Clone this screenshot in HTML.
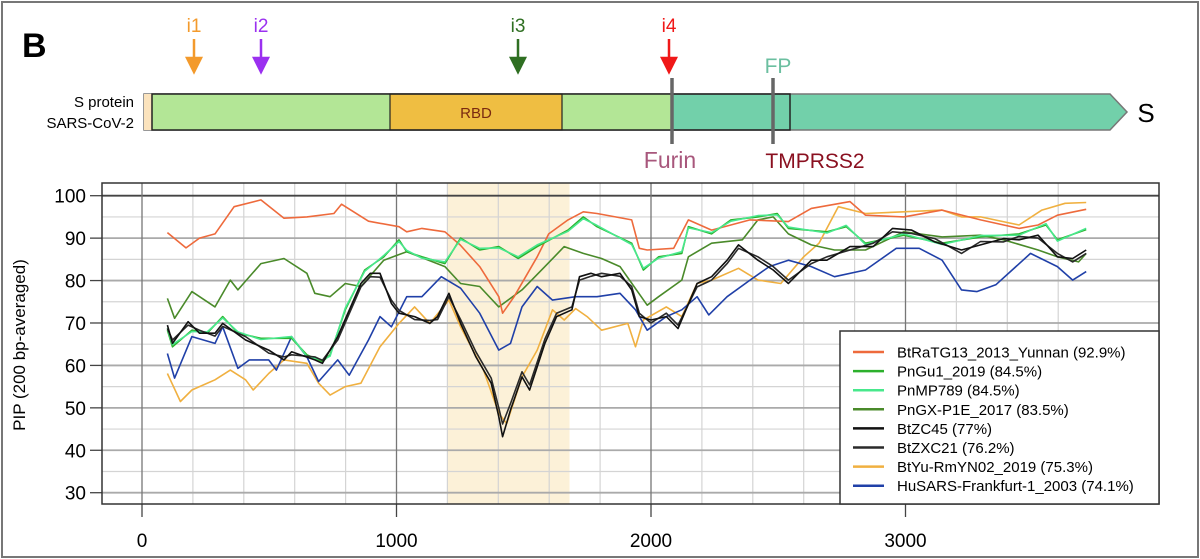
<!DOCTYPE html>
<html><head><meta charset="utf-8"><style>
body{margin:0;background:#fff;}
svg{display:block;font-family:"Liberation Sans",sans-serif;}
</style></head><body>
<svg id="fig" width="1200" height="559" viewBox="0 0 1200 559">
<rect x="2" y="2" width="1196" height="555" fill="#fff" stroke="#777" stroke-width="2"/>
<text x="22" y="57" font-size="34" font-weight="bold">B</text>
<g>
<text x="194" y="32" font-size="19" fill="#f39a2c" text-anchor="middle">i1</text>
<path d="M194 39 V64 M187 58 L194 72 L201 58 Z" stroke="#f39a2c" stroke-width="2.5" fill="#f39a2c"/>
<text x="261" y="32" font-size="19" fill="#9b30f0" text-anchor="middle">i2</text>
<path d="M261 39 V64 M254 58 L261 72 L268 58 Z" stroke="#9b30f0" stroke-width="2.5" fill="#9b30f0"/>
<text x="518" y="32" font-size="19" fill="#2f6f22" text-anchor="middle">i3</text>
<path d="M518 39 V64 M511 58 L518 72 L525 58 Z" stroke="#2f6f22" stroke-width="2.5" fill="#2f6f22"/>
<text x="669" y="32" font-size="19" fill="#f01818" text-anchor="middle">i4</text>
<path d="M669 39 V64 M662 58 L669 72 L676 58 Z" stroke="#f01818" stroke-width="2.5" fill="#f01818"/>
</g>
<g>
<text x="134" y="107" font-size="15" text-anchor="end">S protein</text>
<text x="134" y="128" font-size="15" text-anchor="end">SARS-CoV-2</text>
<path d="M144 94 H1110 L1127 112 L1110 130 H144 Z" fill="#72d0aa" stroke="#777" stroke-width="1.5"/>
<rect x="144" y="94" width="8" height="36" fill="#fbe3bd"/>
<rect x="152" y="94" width="520" height="36" fill="#b3e696"/>
<rect x="390" y="94" width="172" height="36" fill="#efbe42" stroke="#222" stroke-width="1.2"/>
<text x="476" y="118" font-size="15" fill="#7a2a10" text-anchor="middle">RBD</text>
<rect x="152" y="94" width="638" height="36" fill="none" stroke="#222" stroke-width="1.5"/>
<line x1="672" y1="78" x2="672" y2="144" stroke="#666" stroke-width="3.5"/>
<line x1="773" y1="78" x2="773" y2="144" stroke="#666" stroke-width="3.5"/>
<text x="778" y="73" font-size="21" fill="#6bbfa0" text-anchor="middle">FP</text>
<text x="670" y="168" font-size="23" fill="#a8577c" text-anchor="middle">Furin</text>
<text x="815" y="168" font-size="21" fill="#8a1020" text-anchor="middle">TMPRSS2</text>
<text x="1146" y="122" font-size="26" text-anchor="middle">S</text>
</g>
<g id="chart"></g>
</svg>
<script>
const ticksX=[0,1000,2000,3000];
const ticksY=[30,40,50,60,70,80,90,100];
const names=["BtRaTG13_2013_Yunnan (92.9%)","PnGu1_2019 (84.5%)","PnMP789 (84.5%)","PnGX-P1E_2017 (83.5%)","BtZC45 (77%)","BtZXC21 (76.2%)","BtYu-RmYN02_2019 (75.3%)","HuSARS-Frankfurt-1_2003 (74.1%)"];
const colors=["#ee6a3c","#2cb02c","#48e88c","#4a8a2a","#111111","#2a2a2a","#f0b040","#2040a8"];
const redX=[100,173,226,287,362,467,558,648,754,784,890,1010,1040,1100,1190,1250,1327,1402,1417,1462,1553,1598,1674,1734,1788,1924,1954,1985,2089,2147,2238,2389,2540,2630,2782,2843,2993,3144,3295,3446,3521,3597,3710];
const redY=[91.3,87.7,90,91,97.4,99,94.7,95,95.8,98,94,92.7,91.5,92.3,91.5,88.4,83.3,76.2,72.3,76.2,85.6,91,94.3,96.2,95.8,94.3,87.6,87.2,87.6,94.3,91.9,94.3,93.9,97,98.6,95.4,95,96.6,94.3,92.3,93.1,95.4,96.8];
const guX=[100,120,196,256,317,377,467,588,648,709,739,799,875,950,1010,1040,1100,1190,1252,1327,1402,1478,1553,1674,1734,1788,1924,1970,2030,2121,2147,2238,2314,2420,2496,2540,2691,2767,2843,2993,3144,3295,3446,3552,3597,3710];
const guY=[68.3,64.4,68.3,67.6,71.5,67.6,66.4,66.4,62.5,60.9,62.5,73.1,82.5,85.6,89.6,86.8,85.6,84,90,87.2,88,85.2,88,91.9,95,92.7,88.8,82.5,85.6,86.4,92.7,91,94.3,95,95.8,92.3,91.5,92.7,88.8,90.7,88.8,90.3,91,93.1,89.6,92];
const mpY=[68.8,64.9,68,67.9,71.2,67.9,66.1,66.8,62.1,61.3,62.2,73.5,82.2,85.9,89.2,87.1,85.3,84.4,89.7,87.6,87.7,85.6,88.4,91.6,94.6,93,88.5,82.9,85.3,86.8,92.4,91.3,94,95.3,95.5,92.6,91.2,93,88.5,91,88.5,90.6,90.7,93.4,89.3,92.3];
const gxX=[100,128,196,287,347,377,467,558,648,679,739,799,860,950,1040,1190,1252,1327,1402,1493,1583,1659,1734,1806,1878,1985,2030,2121,2147,2238,2359,2420,2480,2540,2630,2721,2843,2993,3144,3295,3385,3521,3597,3680,3710];
const gxY=[75.8,71.1,77.4,73.8,80.1,77.8,84,85.2,81.7,77,76.2,79.3,78.6,84.8,86.8,83.3,79.3,78.6,73.8,77.8,83.3,88,86.4,85.2,83.3,74.2,76.2,80.1,85.6,88.8,89.6,94.3,95,91,88.4,87.2,87.2,91.5,90.3,90.7,89.6,87.2,85.6,84.4,86.4];
const zcX=[100,120,181,226,287,317,407,498,558,588,679,709,769,860,897,935,980,1010,1071,1131,1161,1206,1252,1312,1372,1402,1417,1448,1493,1523,1583,1629,1689,1719,1764,1806,1878,1924,1954,2000,2060,2106,2181,2238,2299,2344,2420,2480,2540,2630,2691,2782,2873,2949,3024,3115,3220,3295,3385,3446,3521,3597,3657,3710];
const zcY=[69.5,65.2,70.3,67.6,67.6,69.9,66,63.6,61.3,63.2,61.3,60.5,66.8,79.3,81.7,81.7,74.6,72.3,71.5,69.9,71.5,77,69.9,62,55.8,47.9,43.2,49.5,57.3,54.2,65.2,71.5,73.1,80.9,81.7,80.9,81.7,77.8,71.5,70.7,71.5,68.7,79.3,80.9,84.8,88.4,84.8,82.5,79.3,84.8,84.8,88,88,92.3,91.9,89.1,87.2,88.4,89.9,89.6,90.7,85.6,85.2,87.2];
const zxY=[68.7,66,69.5,68.3,66.9,69.2,66.8,62.9,62,62.5,62,61.2,66,78.5,80.9,80.8,75.4,73,70.8,70.6,70.8,76.2,70.8,63.2,57,50,46.2,51,58.5,55.4,66.2,72.3,73.8,80.1,81,81.7,81,78.6,72.3,70,72.3,69.5,78.5,80.1,84,87.6,85.6,83.3,80.1,84,85.6,87.2,88.8,91.5,91.1,89.9,86.4,89.2,89.1,90.4,90,86.4,84.4,86.4];
const yuX=[100,151,196,287,347,407,437,498,558,648,694,739,799,860,935,1010,1071,1131,1206,1252,1342,1402,1433,1493,1553,1613,1659,1704,1749,1806,1909,1939,1970,2060,2121,2181,2238,2344,2420,2510,2600,2660,2736,2843,2993,3144,3220,3295,3446,3536,3627,3710];
const yuY=[58.1,51.5,54.2,56.6,58.9,56.6,54.2,58.1,61.3,60.5,55.8,53,55,55.8,64.4,69.9,73.8,69.9,75.4,69.1,58.9,48.7,46.3,57.3,63.6,73.1,70.7,73.4,71.5,68.3,69.9,64.4,70.7,73.8,71.5,79.3,80.1,82.9,80.1,79.3,85.6,88.8,97.4,95.8,96.2,96.6,95,95,93.1,96.6,98.2,98.4];
const huX=[100,128,196,287,317,377,422,498,528,588,648,694,769,814,890,935,980,1040,1100,1176,1252,1327,1402,1448,1493,1553,1613,1704,1788,1878,1939,1985,2060,2121,2181,2227,2299,2389,2465,2540,2630,2721,2843,2964,3054,3144,3220,3280,3355,3491,3597,3657,3710];
const huY=[62.8,57,66.8,65.2,69.1,59.3,61.3,61.3,58.9,66.8,62,56.2,61.3,57.7,66,71.5,69.1,76.2,76.2,80.9,78.2,72.3,63.6,65.2,73.8,78.6,75.4,76.2,76.2,77,73.1,68.3,71.5,73.1,76.2,71.9,76.2,80.1,83.3,84.8,83.3,80.9,82.5,87.6,87.6,84.8,77.8,77.4,79,86.4,83.3,80.1,82.1];
const seriesX=[redX,guX,guX,gxX,zcX,zcX,yuX,huX];
const seriesY=[redY,guY,mpY,gxY,zcY,zxY,yuY,huY];
const band=[1200,1680];

const L=102,R=1159,T=183,B=504;
const sx=v=>142+v*0.2545;
const sy=v=>195.7+(100-v)*4.243;
const NS="http://www.w3.org/2000/svg";
const g=document.getElementById("chart");
function mk(t,a,p){const e=document.createElementNS(NS,t);for(const k in a)e.setAttribute(k,a[k]);(p||g).appendChild(e);return e;}

let e=mk("rect",{x:sx(band[0]),y:T,width:sx(band[1])-sx(band[0]),height:B-T,fill:"#fcf1d8"});


for(let v=200;v<3800;v+=200){if(v%1000===0)continue;
 e=mk("line",{x1:sx(v),x2:sx(v),y1:T,y2:B,stroke:"#d4d4d4","stroke-width":1.2});
 
 }
for(let v=30;v<=100;v+=5){const maj=v%10===0;
 e=mk("line",{x1:L,x2:R,y1:sy(v),y2:sy(v),stroke:v===100?"#444":(maj?"#aaa":"#d4d4d4"),"stroke-width":maj?1.8:1.2});
 
 }
ticksX.forEach(v=>{
 e=mk("line",{x1:sx(v),x2:sx(v),y1:T,y2:B,stroke:"#777","stroke-width":1.3});
 
 
 e=mk("line",{x1:sx(v),x2:sx(v),y1:B,y2:517,stroke:"#444","stroke-width":1.3});
 
 
 e=mk("text",{x:sx(v),y:547,"font-size":19,"text-anchor":"middle"});e.textContent=v;
 
 });
ticksY.forEach(v=>{
 e=mk("line",{x1:90,x2:L,y1:sy(v),y2:sy(v),stroke:"#444","stroke-width":1.3});
 
 
 e=mk("text",{x:86,y:sy(v)+7,"font-size":19,"text-anchor":"end"});e.textContent=v;
 
 });
e=mk("text",{x:0,y:0,"font-size":17,"text-anchor":"middle",transform:"translate(25,345) rotate(-90)"});e.textContent="PIP (200 bp-averaged)";



const order=[6,7,3,0,1,2,5,4];
order.forEach(i=>{
 const xs=seriesX[i],ys=seriesY[i];
 const pts=xs.map((x,j)=>sx(x).toFixed(1)+","+sy(ys[j]).toFixed(1)).join(" ");
 e=mk("polyline",{points:pts,fill:"none",stroke:colors[i],"stroke-width":1.6,"stroke-linejoin":"round"});
 
 });

e=mk("rect",{x:L,y:T,width:R-L,height:B-T,fill:"none",stroke:"#333","stroke-width":1.5});



const lg=mk("g",{});


e=mk("rect",{x:840,y:331,width:319,height:173,fill:"#fff",stroke:"#333","stroke-width":1.5},lg);


names.forEach((n,i)=>{const y=352+i*19.1;
 e=mk("line",{x1:853,x2:884,y1:y,y2:y,stroke:colors[i],"stroke-width":2.5},lg);
 
 
 e=mk("text",{x:897,y:y+5.5,"font-size":15},lg);e.textContent=n;
 
 });
</script>
</body></html>
